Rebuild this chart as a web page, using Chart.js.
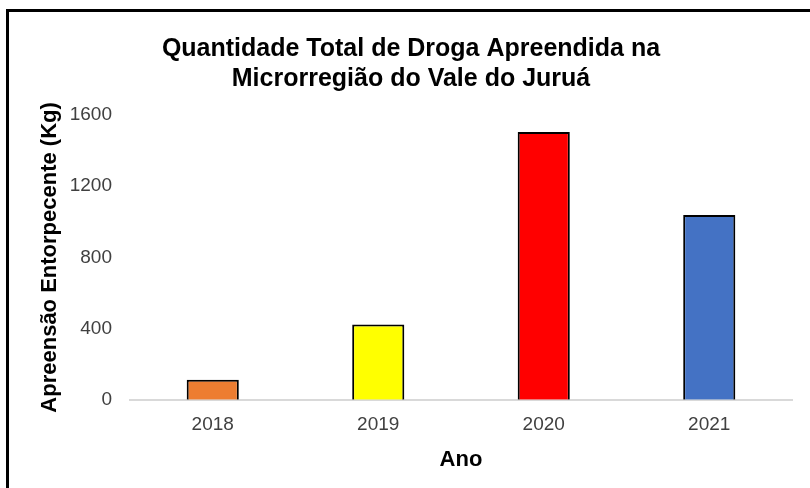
<!DOCTYPE html>
<html>
<head>
<meta charset="utf-8">
<script src="https://cdn.jsdelivr.net/npm/chart.js@4"></script>
<style>
  html, body { margin: 0; padding: 0; background: #fff; }
  #wrap { width: 810px; height: 488px; }
</style>
</head>
<body>
<div id="wrap"><canvas id="chart" width="810" height="488"></canvas></div>
<script>
const anos = ["2018", "2019", "2020", "2021"];
const apreensao = [113, 423, 1505, 1038];
const cores = ["#ED7D31", "#FFFF00", "#FF0000", "#4472C4"];
const yTicks = [0, 400, 800, 1200, 1600];

// only top and left edges of the frame are visible in the reference
const framePlugin = {
  id: "frame",
  afterDraw(chart) {
    const c = chart.ctx;
    c.save();
    c.fillStyle = "#000";
    c.fillRect(6, 9, 804, 3);
    c.fillRect(6, 9, 3, 479);
    c.restore();
  }
};

const fam = "Liberation Sans, Arial";

const ctx = document.getElementById("chart").getContext("2d");
new Chart(ctx, {
  type: "bar",
  data: {
    labels: anos,
    datasets: [{
      data: apreensao,
      backgroundColor: cores,
      borderColor: "#000",
      borderWidth: 2,
      barPercentage: 1,
      categoryPercentage: 0.315
    }]
  },
  options: {
    responsive: false,
    animation: false,
    layout: { padding: { top: 18, left: 30, right: 18, bottom: 15 } },
    plugins: {
      legend: { display: false },
      tooltip: { enabled: false },
      title: {
        display: true,
        text: ["Quantidade Total de Droga Apreendida na", "Microrregião do Vale do Juruá"],
        color: "#000",
        font: { family: fam, size: 25, weight: "bold", lineHeight: 1.2 },
        padding: { top: 16, bottom: 21 }
      }
    },
    scales: {
      x: {
        grid: { display: false, drawTicks: false },
        border: { display: true, color: "#d9d9d9", width: 2 },
        ticks: { color: "#404040", padding: 14, font: { family: fam, size: 19 } },
        title: {
          display: true,
          text: "Ano",
          color: "#000",
          padding: { top: -4, bottom: 0 },
          font: { family: fam, size: 22, weight: "bold" }
        }
      },
      y: {
        min: 0,
        max: 1600,
        afterFit(scale) { scale.width = 100; },
        afterBuildTicks(scale) { scale.ticks = yTicks.map(v => ({ value: v })); },
        grid: { display: false, drawTicks: false },
        border: { display: false },
        ticks: {
          color: "#404040",
          padding: 18,
          font: { family: fam, size: 19 },
          callback: (v) => String(v)
        },
        title: {
          display: true,
          text: "Apreensão Entorpecente (Kg)",
          color: "#000",
          padding: { top: 7, bottom: 0 },
          font: { family: fam, size: 22, weight: "bold" }
        }
      }
    }
  },
  plugins: [framePlugin]
});
</script>
</body>
</html>
